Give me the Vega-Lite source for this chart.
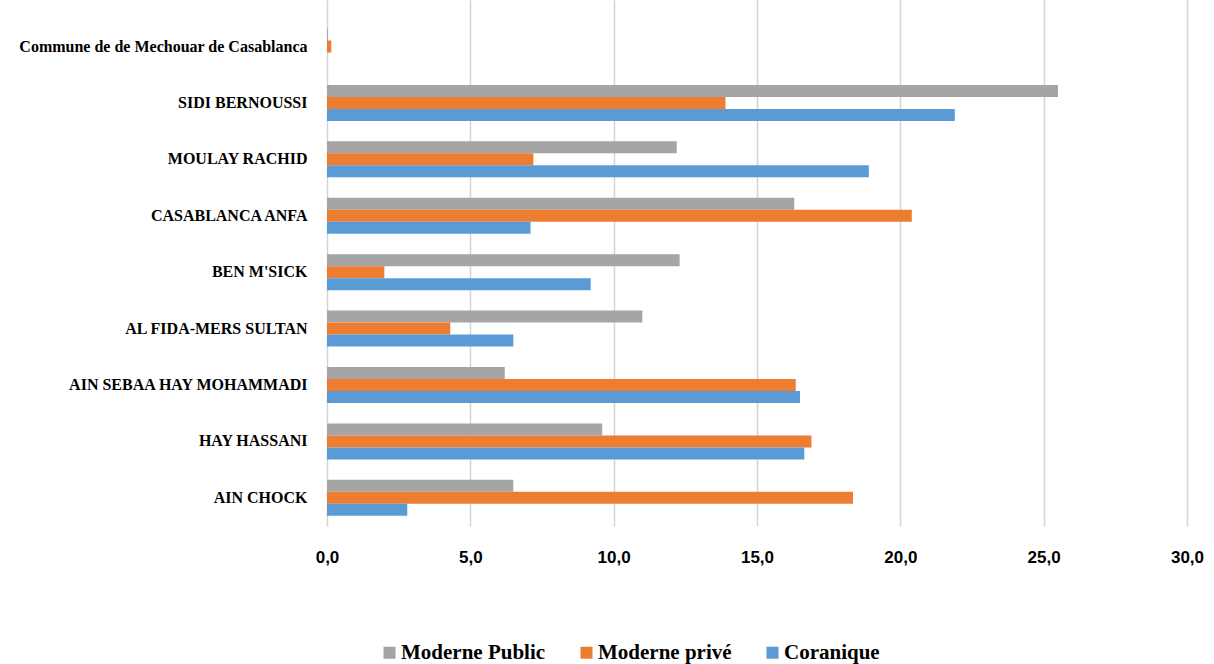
{
  "$schema": "https://vega.github.io/schema/vega-lite/v6.json",
  "autosize": "none",
  "padding": {"left": 327, "top": 0, "right": 27, "bottom": 138},
  "width": 860,
  "height": 526,
  "background": "white",
  "config": {"view": {"stroke": null}},
  "data": {
    "values": [
      {"commune": "Commune de  de Mechouar de Casablanca", "type": "Moderne Public", "value": 0.03},
      {"commune": "Commune de  de Mechouar de Casablanca", "type": "Moderne privé", "value": 0.15},
      {"commune": "Commune de  de Mechouar de Casablanca", "type": "Coranique", "value": 0.0},
      {"commune": "SIDI BERNOUSSI", "type": "Moderne Public", "value": 25.5},
      {"commune": "SIDI BERNOUSSI", "type": "Moderne privé", "value": 13.9},
      {"commune": "SIDI BERNOUSSI", "type": "Coranique", "value": 21.9},
      {"commune": "MOULAY RACHID", "type": "Moderne Public", "value": 12.2},
      {"commune": "MOULAY RACHID", "type": "Moderne privé", "value": 7.2},
      {"commune": "MOULAY RACHID", "type": "Coranique", "value": 18.9},
      {"commune": "CASABLANCA ANFA", "type": "Moderne Public", "value": 16.3},
      {"commune": "CASABLANCA ANFA", "type": "Moderne privé", "value": 20.4},
      {"commune": "CASABLANCA ANFA", "type": "Coranique", "value": 7.1},
      {"commune": "BEN M'SICK", "type": "Moderne Public", "value": 12.3},
      {"commune": "BEN M'SICK", "type": "Moderne privé", "value": 2.0},
      {"commune": "BEN M'SICK", "type": "Coranique", "value": 9.2},
      {"commune": "AL FIDA-MERS SULTAN", "type": "Moderne Public", "value": 11.0},
      {"commune": "AL FIDA-MERS SULTAN", "type": "Moderne privé", "value": 4.3},
      {"commune": "AL FIDA-MERS SULTAN", "type": "Coranique", "value": 6.5},
      {"commune": "AIN SEBAA HAY MOHAMMADI", "type": "Moderne Public", "value": 6.2},
      {"commune": "AIN SEBAA HAY MOHAMMADI", "type": "Moderne privé", "value": 16.35},
      {"commune": "AIN SEBAA HAY MOHAMMADI", "type": "Coranique", "value": 16.5},
      {"commune": "HAY HASSANI", "type": "Moderne Public", "value": 9.6},
      {"commune": "HAY HASSANI", "type": "Moderne privé", "value": 16.9},
      {"commune": "HAY HASSANI", "type": "Coranique", "value": 16.65},
      {"commune": "AIN CHOCK", "type": "Moderne Public", "value": 6.5},
      {"commune": "AIN CHOCK", "type": "Moderne privé", "value": 18.35},
      {"commune": "AIN CHOCK", "type": "Coranique", "value": 2.8}
    ]
  },
  "mark": {"type": "bar"},
  "encoding": {
    "y": {
      "field": "commune",
      "type": "nominal",
      "sort": ["Commune de  de Mechouar de Casablanca", "SIDI BERNOUSSI", "MOULAY RACHID", "CASABLANCA ANFA", "BEN M'SICK", "AL FIDA-MERS SULTAN", "AIN SEBAA HAY MOHAMMADI", "HAY HASSANI", "AIN CHOCK"],
      "scale": {"paddingInner": 0, "paddingOuter": 0.1625, "align": 1},
      "axis": {
        "title": null,
        "domain": false,
        "ticks": false,
        "labelPadding": 20,
        "labelFont": "Liberation Serif",
        "labelFontWeight": "bold",
        "labelFontSize": 16,
        "labelColor": "#000000",
        "labelLimit": 400
      }
    },
    "yOffset": {
      "field": "type",
      "type": "nominal",
      "sort": ["Moderne Public", "Moderne privé", "Coranique"],
      "scale": {"paddingInner": 0, "paddingOuter": 0.85}
    },
    "x": {
      "field": "value",
      "type": "quantitative",
      "stack": null,
      "scale": {"domain": [0, 30], "nice": false},
      "axis": {
        "values": [0, 5, 10, 15, 20, 25, 30],
        "title": null,
        "domain": false,
        "ticks": false,
        "grid": true,
        "gridColor": "#d4d4d4",
        "gridWidth": 1.5,
        "labelExpr": "replace(format(datum.value, '.1f'), '.', ',')",
        "labelFont": "Liberation Sans",
        "labelFontWeight": "bold",
        "labelFontSize": 17,
        "labelPadding": 23,
        "labelFlush": false,
        "labelColor": "#000000"
      }
    },
    "color": {
      "field": "type",
      "type": "nominal",
      "sort": ["Moderne Public", "Moderne privé", "Coranique"],
      "scale": {"domain": ["Moderne Public", "Moderne privé", "Coranique"], "range": ["#A5A5A5", "#ED7D31", "#5B9BD5"]},
      "legend": {
        "title": null,
        "orient": "none",
        "legendX": 52,
        "legendY": 642,
        "direction": "horizontal",
        "symbolType": "square",
        "symbolSize": 144,
        "symbolStrokeWidth": 0,
        "labelFont": "Liberation Serif",
        "labelFontWeight": "bold",
        "labelFontSize": 21,
        "labelColor": "#000000",
        "columnPadding": 30,
        "labelOffset": 1
      }
    }
  }
}
